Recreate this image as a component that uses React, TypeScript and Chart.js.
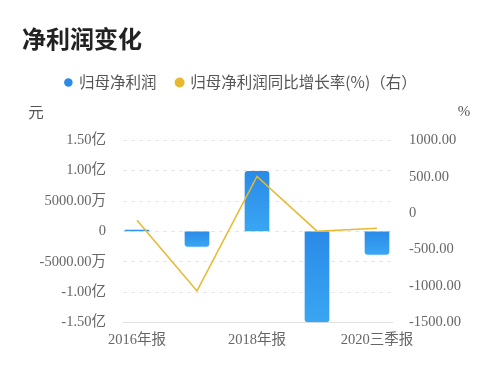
import React, { useEffect, useRef } from "react";
import { Chart, registerables } from "chart.js";

Chart.register(...registerables);

const categories = ["2016年报", "2017年报", "2018年报", "2019年报", "2020三季报"];
const netProfit = [2.3e6, -2.46e7, 9.9e7, -1.49e8, -3.77e7];
const growthRate = [-95, -1066, 505, -246, -205];
const leftTickValues = [-1.5e8, -1e8, -5e7, 0, 5e7, 1e8, 1.5e8];
const leftTickLabels = ["-1.50亿", "-1.00亿", "-5000.00万", "0", "5000.00万", "1.00亿", "1.50亿"];
const rightTickValues = [-1500, -1000, -500, 0, 500, 1000];
const rightTickLabels = ["-1500.00", "-1000.00", "-500.00", "0", "500.00", "1000.00"];
const shownCategoryIndexes = [0, 2, 4];

const TICK_FONT = { family: "'Liberation Serif', 'Noto Sans CJK SC', serif", size: 14.5 };
const TICK_COLOR = "#666";

const unitsPlugin = {
  id: "units",
  afterLayout(chart: any) {
    const lg = chart.legend;
    if (lg) {
      lg.left -= 20;
      lg.right -= 20;
    }
  },
  afterDraw(chart: any) {
    const ctx = chart.ctx;
    ctx.save();
    ctx.fillStyle = "#555";
    ctx.font = "15.5px 'Noto Sans CJK SC', sans-serif";
    ctx.textAlign = "center";
    ctx.textBaseline = "middle";
    ctx.fillText("元", 36, 112);
    ctx.font = "15px 'Liberation Serif', serif";
    ctx.fillText("%", 464, 112);
    ctx.restore();
  },
};

export default function App() {
  const ref = useRef<HTMLCanvasElement>(null);
  useEffect(() => {
    const canvas = ref.current!;
    const barGradient = (c: any) => {
      const chart = c.chart;
      const y = chart.scales?.y;
      if (!chart.chartArea || !y || c.parsed == null) return "#2f95ec";
      const v = c.parsed.y;
      const top = y.getPixelForValue(Math.max(v, 0));
      const bottom = y.getPixelForValue(Math.min(v, 0));
      const g = chart.ctx.createLinearGradient(0, top, 0, Math.max(bottom, top + 1));
      g.addColorStop(0, "#2a8ae8");
      g.addColorStop(1, "#39a6f2");
      return g;
    };
    const chart = new Chart(canvas, {
      type: "bar",
      data: {
        datasets: [
          {
            type: "bar",
            label: "归母净利润",
            data: netProfit.map((v, i) => ({ x: i, y: v })),
            backgroundColor: barGradient,
            borderRadius: 3,
            borderSkipped: "start",
            barThickness: 24,
            yAxisID: "y",
            order: 1,
          } as any,
          {
            type: "line",
            label: "归母净利润同比增长率(%)（右）",
            data: growthRate.map((v, i) => ({ x: i, y: v })),
            borderColor: "#e9b82c",
            backgroundColor: "#e9b82c",
            borderWidth: 1.5,
            pointRadius: 0,
            tension: 0,
            yAxisID: "y1",
            order: 0,
          } as any,
        ],
      },
      options: {
        responsive: false,
        animation: false,
        layout: { padding: { left: 22, right: 0, top: 0, bottom: 14 } },
        plugins: {
          tooltip: { enabled: false },
          title: {
            display: true,
            text: "净利润变化",
            align: "start",
            color: "#222",
            font: { family: "'Noto Sans CJK SC', sans-serif", size: 24, weight: "bold" },
            padding: { top: 24, bottom: 2 },
          },
          subtitle: {
            display: true,
            text: " ",
            weight: 500,
            font: { size: 10 },
            padding: { top: 28, bottom: 0 },
          },
          legend: {
            display: true,
            position: "top",
            weight: 1000,
            labels: {
              usePointStyle: true,
              pointStyle: "circle",
              boxWidth: 6,
              boxHeight: 6,
              padding: 20,
              color: "#555",
              font: { family: "'Noto Sans CJK SC', sans-serif", size: 15.5 },
              sort: (a: any, b: any) => a.datasetIndex - b.datasetIndex,
            },
          },
        },
        scales: {
          x: {
            type: "linear",
            min: -0.233,
            max: 4.25,
            offset: false,
            grid: { display: false, drawTicks: false, offset: false },
            border: { display: true, color: "#e0e0e0" },
            afterBuildTicks: (s: any) => {
              s.ticks = shownCategoryIndexes.map((v) => ({ value: v }));
            },
            ticks: {
              autoSkip: false,
              maxRotation: 0,
              padding: 9,
              color: TICK_COLOR,
              font: TICK_FONT,
              callback: (v: any) => categories[v as number],
            },
          },
          y: {
            position: "left",
            min: -1.5e8,
            max: 1.5e8,
            afterFit: (s: any) => {
              s.width = 101;
            },
            afterBuildTicks: (s: any) => {
              s.ticks = leftTickValues.map((v) => ({ value: v }));
            },
            grid: { color: "#e6e6e6", drawTicks: false },
            border: { display: false, dash: [4, 4] },
            ticks: {
              padding: 17,
              color: TICK_COLOR,
              font: TICK_FONT,
              callback: (v: any) => leftTickLabels[leftTickValues.indexOf(v as number)],
            },
          },
          y1: {
            position: "right",
            min: -1500,
            max: 1000,
            afterFit: (s: any) => {
              s.width = 108;
            },
            afterBuildTicks: (s: any) => {
              s.ticks = rightTickValues.map((v) => ({ value: v }));
            },
            grid: { display: false, drawTicks: false },
            border: { display: false },
            ticks: {
              padding: 17,
              color: TICK_COLOR,
              font: TICK_FONT,
              callback: (v: any) => rightTickLabels[rightTickValues.indexOf(v as number)],
            },
          },
        },
      } as any,
      plugins: [unitsPlugin],
    });
    return () => chart.destroy();
  }, []);
  return (
    <div style={{ position: "absolute", left: 0, top: 0, width: 500, height: 372, background: "#fff" }}>
      <canvas ref={ref} width={500} height={372} />
    </div>
  );
}
